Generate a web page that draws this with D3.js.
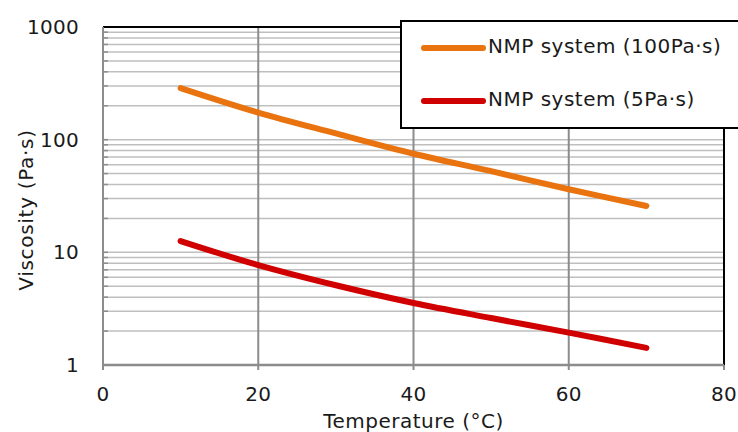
<!DOCTYPE html>
<html>
<head>
<meta charset="utf-8">
<script src="https://cdn.jsdelivr.net/npm/d3@7"></script>
<style>
  body { margin: 0; background: #fff; }
  text { font-family: "DejaVu Sans", Verdana, sans-serif; fill: #1a1a1a; font-size: 20px; }
</style>
</head>
<body>
<svg id="canvas" width="738" height="432"></svg>
<script>
const temps = [10, 20, 30, 40, 50, 60, 70];
const visc100 = [287, 174, 113.5, 75, 52.5, 36.3, 25.8];
const visc5 = [12.6, 7.7, 5.1, 3.55, 2.61, 1.94, 1.42];
const seriesNames = ['NMP system (100Pa\u00b7s)', 'NMP system (5Pa\u00b7s)'];
const seriesColors = ['#e8730f', '#d00000'];
const xTicks = [0, 20, 40, 60, 80];
const yTicks = [1, 10, 100, 1000];

let svg = d3.select('#canvas');

// plot area edges
let pLeft = 103, pRight = 724, pTop = 27, pBottom = 365;

let x = d3.scaleLinear().domain([0, 80]).range([pLeft, pRight]);
let y = d3.scaleLog().domain([1, 1000]).range([pBottom, pTop]);

// minor horizontal gridlines (2..9 in each decade)
let minors = [];
for (let d = 1; d < 1000; d *= 10) {
  for (let k = 2; k <= 9; k++) minors.push(d * k);
}
let hLines = minors.concat([10, 100]);

svg.append('g').selectAll('line')
  .data(hLines)
  .enter().append('line')
  .attr('x1', pLeft).attr('x2', pRight)
  .attr('y1', d => y(d)).attr('y2', d => y(d))
  .attr('stroke', '#bfbfbf').attr('stroke-width', 1.5);

// little ticks on the left axis
svg.append('g').selectAll('line')
  .data(hLines)
  .enter().append('line')
  .attr('x1', pLeft).attr('x2', pLeft + 5)
  .attr('y1', d => y(d)).attr('y2', d => y(d))
  .attr('stroke', '#8c8c8c').attr('stroke-width', 1.5);

// vertical gridlines
svg.append('g').selectAll('line')
  .data([20, 40, 60])
  .enter().append('line')
  .attr('x1', d => x(d)).attr('x2', d => x(d))
  .attr('y1', pTop).attr('y2', pBottom + 5)
  .attr('stroke', '#8c8c8c').attr('stroke-width', 2);

// frame: top and right black, left and bottom gray
svg.append('line').attr('x1', pLeft).attr('x2', pRight).attr('y1', pTop).attr('y2', pTop)
  .attr('stroke', '#000').attr('stroke-width', 2);
svg.append('line').attr('x1', pRight).attr('x2', pRight).attr('y1', pTop).attr('y2', pBottom)
  .attr('stroke', '#000').attr('stroke-width', 2);
svg.append('line').attr('x1', pLeft).attr('x2', pLeft).attr('y1', pTop).attr('y2', pBottom + 5)
  .attr('stroke', '#8c8c8c').attr('stroke-width', 2);
svg.append('line').attr('x1', pRight).attr('x2', pRight).attr('y1', pBottom).attr('y2', pBottom + 5)
  .attr('stroke', '#8c8c8c').attr('stroke-width', 2);
svg.append('line').attr('x1', pLeft).attr('x2', pRight).attr('y1', pBottom).attr('y2', pBottom)
  .attr('stroke', '#8c8c8c').attr('stroke-width', 2.5);

// tick labels
svg.append('g').selectAll('text')
  .data(yTicks)
  .enter().append('text')
  .attr('x', 79).attr('y', d => y(d) + 7)
  .attr('text-anchor', 'end')
  .style('letter-spacing', '0.3px')
  .text(d => d);

svg.append('g').selectAll('text')
  .data(xTicks)
  .enter().append('text')
  .attr('x', d => x(d)).attr('y', 401)
  .attr('text-anchor', 'middle')
  .style('letter-spacing', '0.3px')
  .text(d => d);

// axis titles
svg.append('text')
  .attr('x', x(40)).attr('y', 428)
  .attr('text-anchor', 'middle')
  .style('letter-spacing', '0.5px')
  .text('Temperature (\u00b0C)');

svg.append('text')
  .attr('transform', 'translate(33,210) rotate(-90)')
  .attr('text-anchor', 'middle')
  .style('letter-spacing', '0.7px')
  .text('Viscosity (Pa\u00b7s)');

// series lines
let line = d3.line()
  .x(d => x(d[0]))
  .y(d => y(d[1]))
  .curve(d3.curveCatmullRom);

[visc100, visc5].forEach(function(vals, i) {
  svg.append('path')
    .datum(temps.map((t, j) => [t, vals[j]]))
    .attr('d', line)
    .attr('fill', 'none')
    .attr('stroke', seriesColors[i])
    .attr('stroke-width', 6)
    .attr('stroke-linecap', 'round')
    .attr('stroke-linejoin', 'round');
});

// legend
let lg = svg.append('g');
lg.append('rect')
  .attr('x', 401).attr('y', 21).attr('width', 345).attr('height', 107)
  .attr('fill', '#fff').attr('stroke', '#000').attr('stroke-width', 2);
seriesNames.forEach(function(name, i) {
  let ly = 48 + i * 53;
  lg.append('line')
    .attr('x1', 424).attr('x2', 483).attr('y1', ly).attr('y2', ly)
    .attr('stroke', seriesColors[i]).attr('stroke-width', 6)
    .attr('stroke-linecap', 'round');
  lg.append('text')
    .attr('x', 488).attr('y', ly + 5)
    .style('letter-spacing', '0.5px')
    .text(name);
});
</script>
</body>
</html>
